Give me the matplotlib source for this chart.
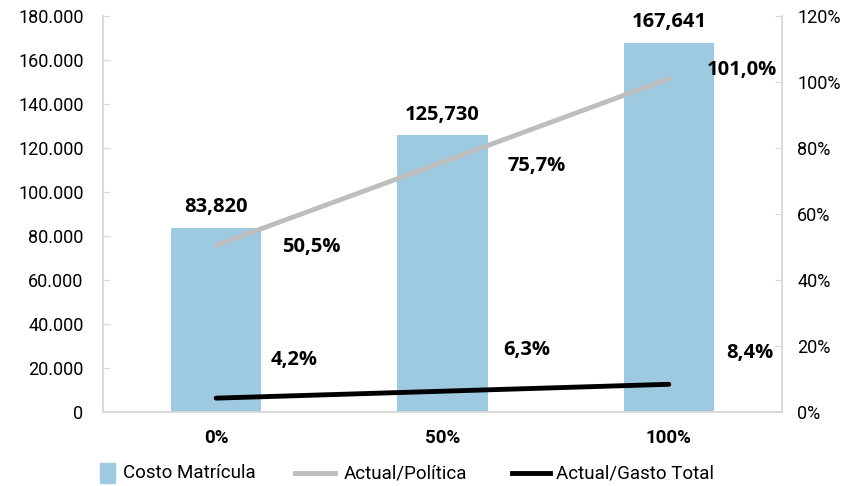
import matplotlib
matplotlib.use("Agg")
import matplotlib.pyplot as plt
from matplotlib.ticker import FuncFormatter
from matplotlib.patches import Rectangle
from matplotlib.lines import Line2D

plt.rcParams['font.family'] = ['Roboto', 'DejaVu Sans']

# Data
categories = ["0%", "50%", "100%"]
costo = [83820, 125730, 167641]
actual_politica = [50.5, 75.7, 101.0]
actual_gasto = [4.2, 6.3, 8.4]
series_names = ["Costo Matrícula", "Actual/Política", "Actual/Gasto Total"]

bar_color = "#9ECAE1"
grey = "#BEBEBE"
spine_c = "#D9D9D9"
W, H = 846, 486

fig = plt.figure(figsize=(W/100, H/100), dpi=100)
ax = fig.add_axes([103/W, 1 - 412/H, (782-103)/W, (412-16)/H])
ax2 = ax.twinx()

x = list(range(len(categories)))
ax.bar(x, costo, width=0.4, color=bar_color, zorder=2)
ax.set_xlim(-0.5, 2.5)
ax.set_ylim(0, 180000)
ax.set_yticks(range(0, 180001, 20000))
ax.yaxis.set_major_formatter(FuncFormatter(lambda v, p: "0" if v == 0 else f"{int(v):,}".replace(",", ".")))
ax.set_xticks(x)
ax.set_xticklabels(categories, fontweight="bold", fontsize=13.5)
ax.tick_params(axis="x", length=0, pad=12)
ax.tick_params(axis="y", direction="in", length=5, color=spine_c, labelsize=13, pad=14)

ax2.set_ylim(0, 120)
ax2.set_yticks(range(0, 121, 20))
ax2.yaxis.set_major_formatter(FuncFormatter(lambda v, p: f"{int(v)}%"))
ax2.tick_params(axis="y", direction="in", length=5, color=spine_c, labelsize=13, pad=11)

ax2.plot(x, actual_politica, color=grey, lw=3.5, solid_capstyle="round", zorder=3)
ax2.plot(x, actual_gasto, color="black", lw=3.5, solid_capstyle="round", zorder=3)

for a in (ax, ax2):
    a.spines["top"].set_visible(False)
    for s in ("left", "right", "bottom"):
        a.spines[s].set_color(spine_c)
        a.spines[s].set_linewidth(1.2)
ax2.set_zorder(ax.get_zorder() + 1)
ax2.patch.set_visible(False)

lab_font = dict(family=["Open Sans", "DejaVu Sans"], fontsize=14.5, fontweight="bold")

# Bar labels
for xi, v in zip(x, costo):
    ax.annotate(f"{v:,}", (xi, v), xytext=(0, 15), textcoords="offset points",
                ha="center", va="center", **lab_font)

# Line labels (offsets in pixels)
pol_off = [(95, -2), (94, -4), (73, 9)]
gas_off = [(78, 38), (84, 41), (81, 31)]
for xi, v, (dx, dy) in zip(x, actual_politica, pol_off):
    ax2.annotate(f"{v:.1f}%".replace(".", ","), (xi, v), xytext=(dx*0.72, dy*0.72),
                 textcoords="offset points", ha="center", va="center", **lab_font)
for xi, v, (dx, dy) in zip(x, actual_gasto, gas_off):
    ax2.annotate(f"{v:.1f}%".replace(".", ","), (xi, v), xytext=(dx*0.72, dy*0.72),
                 textcoords="offset points", ha="center", va="center", **lab_font)

# Legend drawn in figure pixel coords
ly = 1 - 473/H
fig.patches.append(Rectangle((100/W, 1 - 483/H), 15/W, 20/H, color=bar_color,
                             transform=fig.transFigure))
fig.lines.append(Line2D([295/W, 335/W], [ly, ly], color=grey, lw=3.5,
                        transform=fig.transFigure))
fig.lines.append(Line2D([512/W, 550/W], [ly, ly], color="black", lw=3.5,
                        transform=fig.transFigure))
for tx, name in zip([123, 344, 556], series_names):
    fig.text(tx/W, ly, name, ha="left", va="center", fontsize=13.5)

fig.savefig("out.png", dpi=100)
